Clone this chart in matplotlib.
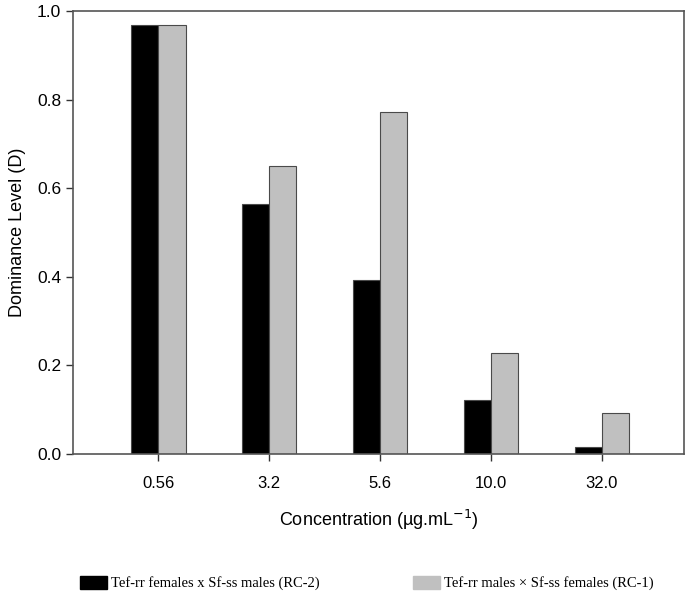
import numpy as np
import matplotlib.pyplot as plt
from matplotlib.patches import Patch

# ── Data ───────────────────────────────────────────────────────────────
concentrations = ["0.56", "3.2", "5.6", "10.0", "32.0"]
rc2_values = [0.968, 0.565, 0.393, 0.122, 0.016]   # Tef-rr females x Sf-ss males
rc1_values = [0.968, 0.650, 0.772, 0.228, 0.093]   # Tef-rr males x Sf-ss females
series_labels = ["Tef-rr females x Sf-ss males (RC-2)",
                 "Tef-rr males \u00d7 Sf-ss females (RC-1)"]
series_colors = ["black", "#c0c0c0"]

plt.rcParams["font.family"] = ["Liberation Sans", "DejaVu Sans"]

fig = plt.figure(figsize=(6.85, 5.94), dpi=100)
ax = fig.add_axes([0.1066, 0.2357, 0.892, 0.7458])

x = np.arange(len(concentrations))
w = 0.245
edge = "#4a4a4a"
ax.bar(x - w / 2, rc2_values, w, color=series_colors[0], edgecolor=edge, linewidth=0.8)
ax.bar(x + w / 2, rc1_values, w, color=series_colors[1], edgecolor=edge, linewidth=0.8)

ax.set_xlim(-0.77, 4.74)
ax.set_ylim(0, 1.0)
yt = np.arange(0, 1.01, 0.2)
ax.set_yticks(yt)
ax.set_yticklabels([f"{v:.1f}" for v in yt], fontsize=12.5)
ax.set_xticks(x)
ax.set_xticklabels(concentrations, fontsize=12)
ax.tick_params(direction="out", length=5, width=1, colors="#333333", labelcolor="black")
ax.tick_params(axis="x", pad=11)

for s in ax.spines.values():
    s.set_color("#555555")
    s.set_linewidth(1.2)

ax.set_ylabel("Dominance Level (D)", fontsize=13, labelpad=8)
ax.set_xlabel("Concentration (\u00b5g.mL$^{-1}$)", fontsize=13, labelpad=12)

# ── Legend along the bottom: one entry each, placed separately ────────
anchors = [0.1168, 0.603]
for lab, col, ax_x in zip(series_labels, series_colors, anchors):
    fig.legend([Patch(facecolor=col, edgecolor=col)], [lab],
               loc="lower left", bbox_to_anchor=(ax_x, 0.006),
               frameon=False, borderpad=0, borderaxespad=0,
               handlelength=1.85, handleheight=1.05, handletextpad=0.25,
               prop={"family": "Liberation Serif", "size": 10.5})

fig.savefig("out.png", dpi=100)
